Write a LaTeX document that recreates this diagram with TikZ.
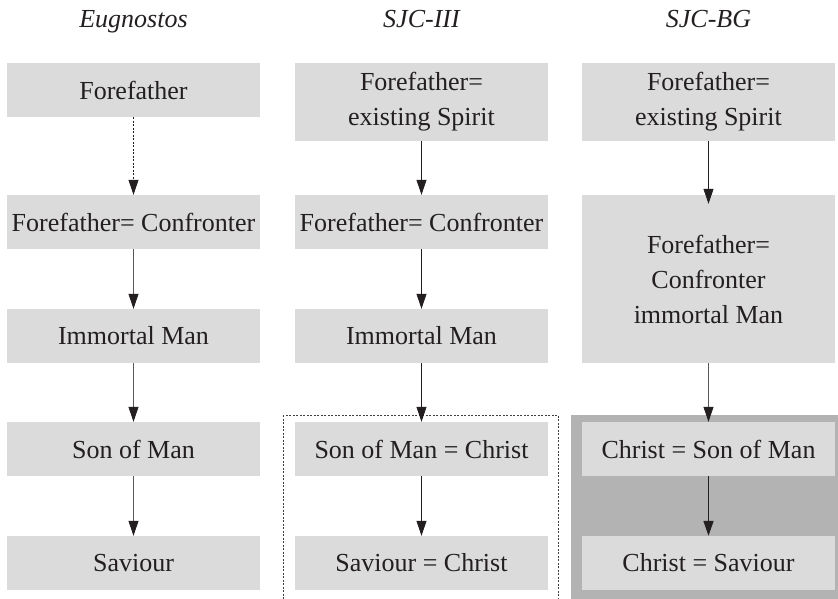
\documentclass[tikz,border=0pt]{standalone}
\usepackage{fontspec}
\setmainfont{Liberation Serif}
\usetikzlibrary{arrows.meta}
\definecolor{boxgray}{HTML}{DBDBDB}
\definecolor{framegray}{HTML}{B3B3B3}
\definecolor{ink}{HTML}{231F20}
\begin{document}
\begin{tikzpicture}[x=1pt,y=-1pt,
  stepbox/.style={fill=boxgray, draw=none, minimum width=253pt, minimum height=54pt,
    inner sep=0pt, align=center, text=ink, font=\fontsize{26}{35}\selectfont},
  head/.style={font=\fontsize{26}{35}\selectfont\itshape, text=ink, anchor=base, inner sep=0pt},
  arr/.style={-{Triangle[length=15pt,width=10pt,color=ink,fill=ink]}, line width=0.8pt, draw=ink},
  grayarr/.style={arr, draw=black!65},
  dotarr/.style={arr, dash pattern=on 2pt off 1.5pt},
  thickarr/.style={arr, line width=1.6pt},
  dotframe/.style={draw=black!75, line width=0.8pt, dash pattern=on 2pt off 1.5pt}
]
\useasboundingbox (0,0) rectangle (838,598);
\clip (0,0) rectangle (838,598);

% group frames
\fill[framegray] (571,415) rectangle (850,620);
\draw[dotframe] (283,415) rectangle (558,620);

% headers
\node[head] (h1) at (133.5,27) {Eugnostos};
\node[head] (h2) at (421.5,27) {SJC-III};
\node[head] (h3) at (708.5,27) {SJC-BG};

% column 1
\node[stepbox] (a1) at (133.5,90) {Forefather};
\node[stepbox] (a2) at (133.5,222) {Forefather= Confronter};
\node[stepbox] (a3) at (133.5,336) {Immortal Man};
\node[stepbox] (a4) at (133.5,449) {Son of Man};
\node[stepbox] (a5) at (133.5,563) {Saviour};

% column 2
\node[stepbox, minimum height=78pt] (b1) at (421.5,102) {Forefather=\\existing Spirit};
\node[stepbox] (b2) at (421.5,222) {Forefather= Confronter};
\node[stepbox] (b3) at (421.5,336) {Immortal Man};
\node[stepbox] (b4) at (421.5,449) {Son of Man = Christ};
\node[stepbox] (b5) at (421.5,563) {Saviour = Christ};

% column 3
\node[stepbox, minimum height=78pt] (c1) at (708.5,102) {Forefather=\\existing Spirit};
\node[stepbox, minimum height=168pt] (c2) at (708.5,279) {Forefather=\\Confronter\\immortal Man};
\node[stepbox] (c3) at (708.5,449) {Christ = Son of Man};
\node[stepbox] (c4) at (708.5,563) {Christ = Saviour};

% connectors
\draw[dotarr] (a1) -- (a2);
\draw[grayarr] (a2) -- (a3);
\draw[grayarr] (a3) -- (a4);
\draw[grayarr] (a4) -- (a5);

\draw[arr] (b1) -- (b2);
\draw[arr] (b2) -- (b3);
\draw[arr] (b3) -- (b4);
\draw[arr] (b4) -- (b5);

\draw[arr] (c1.south) -- ([yshift=-9pt]c2.north);
\draw[grayarr] (c2) -- (c3);
\draw[thickarr] (c3) -- (c4);
\end{tikzpicture}
\end{document}
